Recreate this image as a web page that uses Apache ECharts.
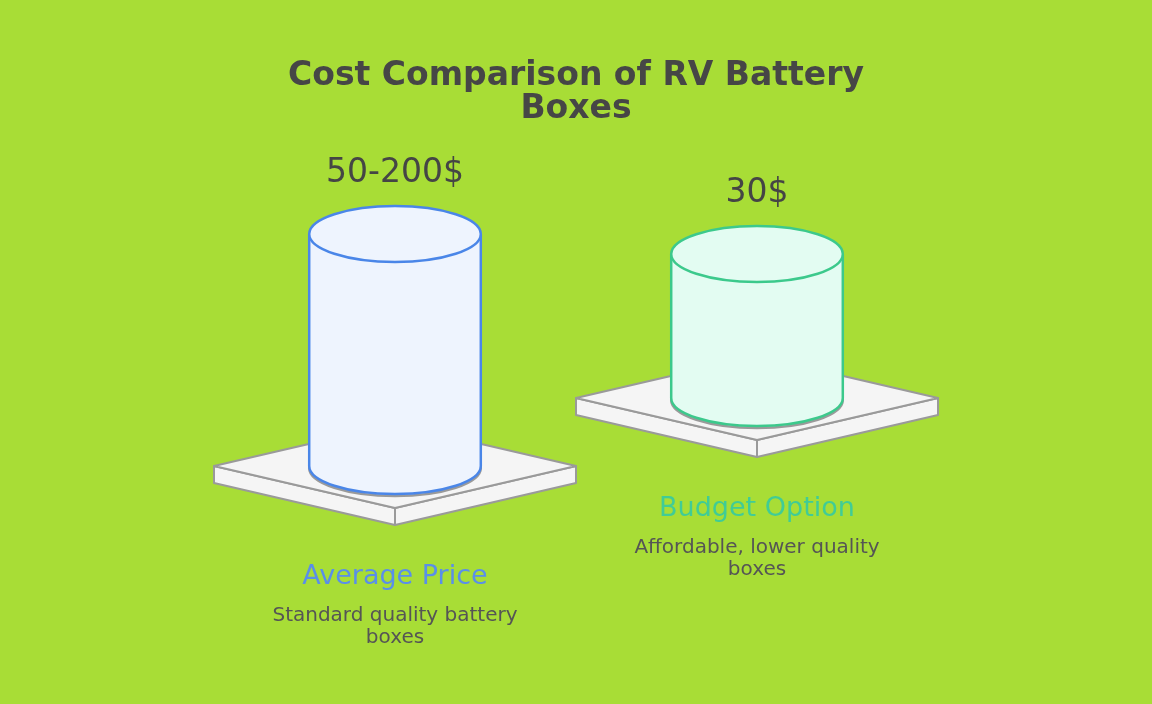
<!DOCTYPE html>
<html>
<head>
<meta charset="utf-8">
<script src="https://cdn.jsdelivr.net/npm/echarts@6/dist/echarts.min.js"></script>
<style>
  html, body { margin: 0; padding: 0; background: #a8dd36; }
  #main { width: 1152px; height: 704px; }
</style>
</head>
<body>
<div id="main"></div>
<script>
// 数据
var categories = ['Average Price', 'Budget Option'];
var priceLabels = ['50-200$', '30$'];
var descriptions = ['Standard quality battery\nboxes', 'Affordable, lower quality\nboxes'];
var baseLevel = [21, 38];       // 底座高度
var cylinderHeight = [58, 36];  // 圆柱高度

var strokeColors = ['#4a86e8', '#3cc98c'];
var fillColors = ['#eef4fe', '#e3fcf2'];
var labelColors = ['#5a8fe9', '#40cc96'];

var chart = echarts.init(document.getElementById('main'));

function renderItem(params, api) {
  var i = params.dataIndex;
  var base = api.coord([api.value(0), api.value(1)]);
  var top = api.coord([api.value(0), api.value(1) + api.value(2)]);
  var band = api.size([1, 0])[0];
  var cx = base[0], by = base[1], ty = top[1];
  var rx = band * 0.237, ry = 28;
  var pw = band * 0.5, ph = 42, t = 17;
  var stroke = strokeColors[i], fill = fillColors[i];
  var pStyle = { fill: '#f5f5f5', stroke: '#9a9a9a', lineWidth: 2, lineJoin: 'round' };

  var L = [cx - pw, by], F = [cx, by + ph], R = [cx + pw, by], B = [cx, by - ph];
  return {
    type: 'group',
    children: [
      // 底座
      { type: 'polygon', shape: { points: [L, F, [F[0], F[1] + t], [L[0], L[1] + t]] }, style: pStyle },
      { type: 'polygon', shape: { points: [F, R, [R[0], R[1] + t], [F[0], F[1] + t]] }, style: pStyle },
      { type: 'polygon', shape: { points: [L, F, R, B] }, style: pStyle },
      // 阴影
      { type: 'ellipse', shape: { cx: cx, cy: by + 2, rx: rx, ry: ry }, style: { fill: 'none', stroke: '#9a9a9a', lineWidth: 2.5 } },
      // 圆柱
      { type: 'ellipse', shape: { cx: cx, cy: by, rx: rx, ry: ry }, style: { fill: fill, stroke: stroke, lineWidth: 2.5 } },
      { type: 'rect', shape: { x: cx - rx, y: ty, width: rx * 2, height: by - ty }, style: { fill: fill } },
      { type: 'line', shape: { x1: cx - rx, y1: ty, x2: cx - rx, y2: by }, style: { stroke: stroke, lineWidth: 2.5 } },
      { type: 'line', shape: { x1: cx + rx, y1: ty, x2: cx + rx, y2: by }, style: { stroke: stroke, lineWidth: 2.5 } },
      { type: 'ellipse', shape: { cx: cx, cy: ty, rx: rx, ry: ry }, style: { fill: fill, stroke: stroke, lineWidth: 2.5 } },
      // 文字
      { type: 'text', style: { text: priceLabels[i], x: cx, y: ty - ry - 33, align: 'center', verticalAlign: 'middle',
          fontSize: 33, fontFamily: 'DejaVu Sans', fill: '#454545' } },
      { type: 'text', style: { text: categories[i], x: cx, y: by + ph + t + 52, align: 'center', verticalAlign: 'middle',
          fontSize: 27, fontFamily: 'DejaVu Sans', fill: labelColors[i] } },
      { type: 'text', style: { text: descriptions[i], x: cx, y: by + ph + t + 80, align: 'center', verticalAlign: 'top',
          fontSize: 20, lineHeight: 22, fontFamily: 'DejaVu Sans', fill: '#555555' } }
    ]
  };
}

chart.setOption({
  backgroundColor: '#a8dd36',
  title: {
    text: 'Cost Comparison of RV Battery\nBoxes',
    left: 'center',
    top: 55,
    textStyle: { fontSize: 33, lineHeight: 33, fontWeight: 'bold', fontFamily: 'DejaVu Sans', color: '#464646' }
  },
  grid: { left: 214, right: 214, top: 150, bottom: 154 },
  xAxis: { type: 'category', data: categories, show: false },
  yAxis: { type: 'value', min: 0, max: 100, show: false },
  series: [{
    type: 'custom',
    renderItem: renderItem,
    data: categories.map(function (c, i) { return [i, baseLevel[i], cylinderHeight[i]]; })
  }]
});
</script>
</body>
</html>
